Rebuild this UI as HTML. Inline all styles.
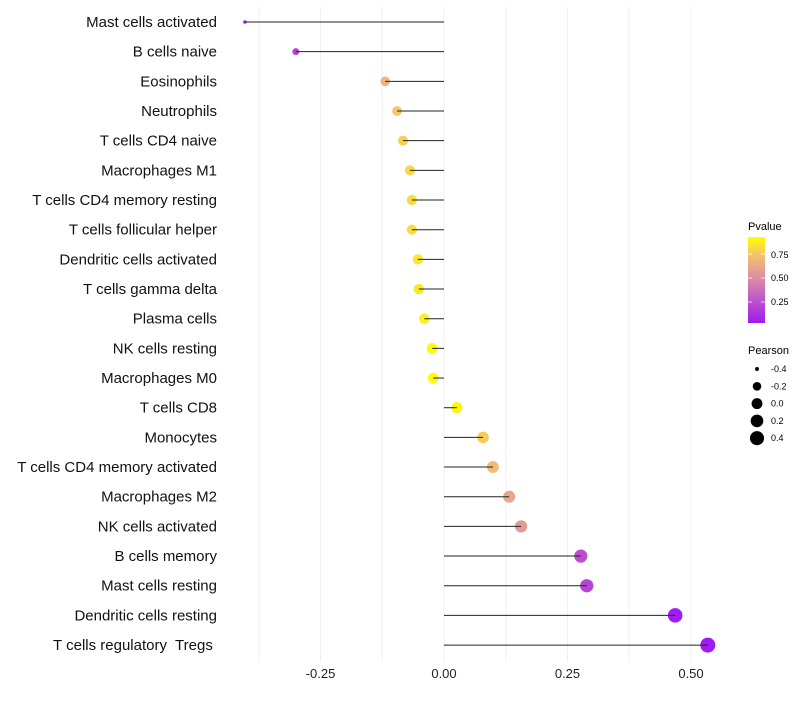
<!DOCTYPE html>
<html><head><meta charset="utf-8"><style>
body{margin:0;background:#fff;font-family:"Liberation Sans",sans-serif}
svg text{font-family:"Liberation Sans",sans-serif;white-space:pre}
</style></head><body>
<svg id="chart" width="800" height="700" xmlns="http://www.w3.org/2000/svg">
<defs><linearGradient id="pg" x1="0" y1="1" x2="0" y2="0">
<stop offset="0" stop-color="#9E1BF2"/><stop offset="0.5" stop-color="#DA88A8"/><stop offset="0.78" stop-color="#F3C070"/><stop offset="1" stop-color="#FFFF00"/></linearGradient></defs>
<g id="grid"></g><g id="marks"></g><g id="labels"></g>
<g>
<text x="748" y="230" font-size="11">Pvalue</text>
<rect x="748" y="237" width="17" height="86" fill="url(#pg)"/>
<line x1="748" y1="254" x2="752" y2="254" stroke="#fff" opacity="0.7"/><line x1="761" y1="254" x2="765" y2="254" stroke="#fff" opacity="0.7"/>
<line x1="748" y1="278" x2="752" y2="278" stroke="#fff" opacity="0.7"/><line x1="761" y1="278" x2="765" y2="278" stroke="#fff" opacity="0.7"/>
<line x1="748" y1="302" x2="752" y2="302" stroke="#fff" opacity="0.7"/><line x1="761" y1="302" x2="765" y2="302" stroke="#fff" opacity="0.7"/>
<text x="771" y="258" font-size="9">0.75</text><text x="771" y="281" font-size="9">0.50</text><text x="771" y="305" font-size="9">0.25</text>
</g>
<g id="sizeleg"><text x="748" y="354" font-size="11">Pearson</text></g>
</svg>
<script>
const categories=["Mast cells activated","B cells naive","Eosinophils","Neutrophils","T cells CD4 naive","Macrophages M1","T cells CD4 memory resting","T cells follicular helper","Dendritic cells activated","T cells gamma delta","Plasma cells","NK cells resting","Macrophages M0","T cells CD8","Monocytes","T cells CD4 memory activated","Macrophages M2","NK cells activated","B cells memory","Mast cells resting","Dendritic cells resting","T cells regulatory  Tregs "];
const pearson=[-0.403,-0.30,-0.119,-0.095,-0.083,-0.069,-0.065,-0.065,-0.053,-0.051,-0.040,-0.024,-0.022,0.026,0.079,0.099,0.132,0.156,0.277,0.289,0.468,0.534];
const pvalues=[0.08,0.2,0.68,0.75,0.78,0.81,0.82,0.82,0.85,0.86,0.88,0.91,0.92,0.90,0.77,0.71,0.62,0.56,0.24,0.21,0.04,0.01];
const xTicks=[-0.25,0,0.25,0.5];
const xTickLabels=["-0.25","0.00","0.25","0.50"];
const sizeLegend=[-0.4,-0.2,0.0,0.2,0.4];
const sizeLegendLabels=["-0.4","-0.2","0.0","0.2","0.4"];
const NS="http://www.w3.org/2000/svg";
const X=v=>444+v*494;
const Y=i=>22+i*29.67;
const R=p=>1.5+6*Math.sqrt(Math.max(0,(p+0.405)/0.94));
const stops=[[0,[158,27,242]],[0.5,[218,136,168]],[0.78,[243,192,112]],[1,[255,255,0]]];
function col(p){const t=(p-0.03)/0.9;const c=Math.max(0,Math.min(1,t));for(let i=1;i<stops.length;i++){if(c<=stops[i][0]){const a=stops[i-1],b=stops[i];const f=(c-a[0])/(b[0]-a[0]);return "rgb("+a[1].map((v,k)=>Math.round(v+(b[1][k]-v)*f)).join(",")+")";}}return "rgb(255,255,0)";}
function mk(t,a,p){const e=document.createElementNS(NS,t);for(const k in a)e.setAttribute(k,a[k]);p.appendChild(e);return e;}
const grid=document.getElementById('grid'),marks=document.getElementById('marks'),labels=document.getElementById('labels');
for(let v=-0.375;v<=0.55;v+=0.125){const g=mk('line',{x1:X(v),x2:X(v),y1:7,y2:662,stroke:'#f0f0f0','stroke-width':1},grid);

}
xTicks.forEach((v,i)=>{const t=mk('text',{x:X(v),y:678,'font-size':13,'text-anchor':'middle',fill:'#222'},labels);t.textContent=xTickLabels[i];

});
categories.forEach((c,i)=>{
const t=mk('text',{x:217,y:Y(i)+5,'font-size':15,'text-anchor':'end',fill:'#111'},labels);t.textContent=c;


const pt=mk('circle',{cx:X(pearson[i]),cy:Y(i),r:R(pearson[i]),fill:col(pvalues[i])},marks);


const ln=mk('line',{x1:X(0),x2:X(pearson[i]),y1:Y(i),y2:Y(i),stroke:'#222','stroke-width':1},marks);


});
const sl=document.getElementById('sizeleg');
sizeLegend.forEach((v,i)=>{const y=369+i*17.3;
const c=mk('circle',{cx:757,cy:y,r:R(v),fill:'#000'},sl);


const t=mk('text',{x:771,y:y+3,'font-size':9},sl);t.textContent=sizeLegendLabels[i];

});
</script>
</body></html>
